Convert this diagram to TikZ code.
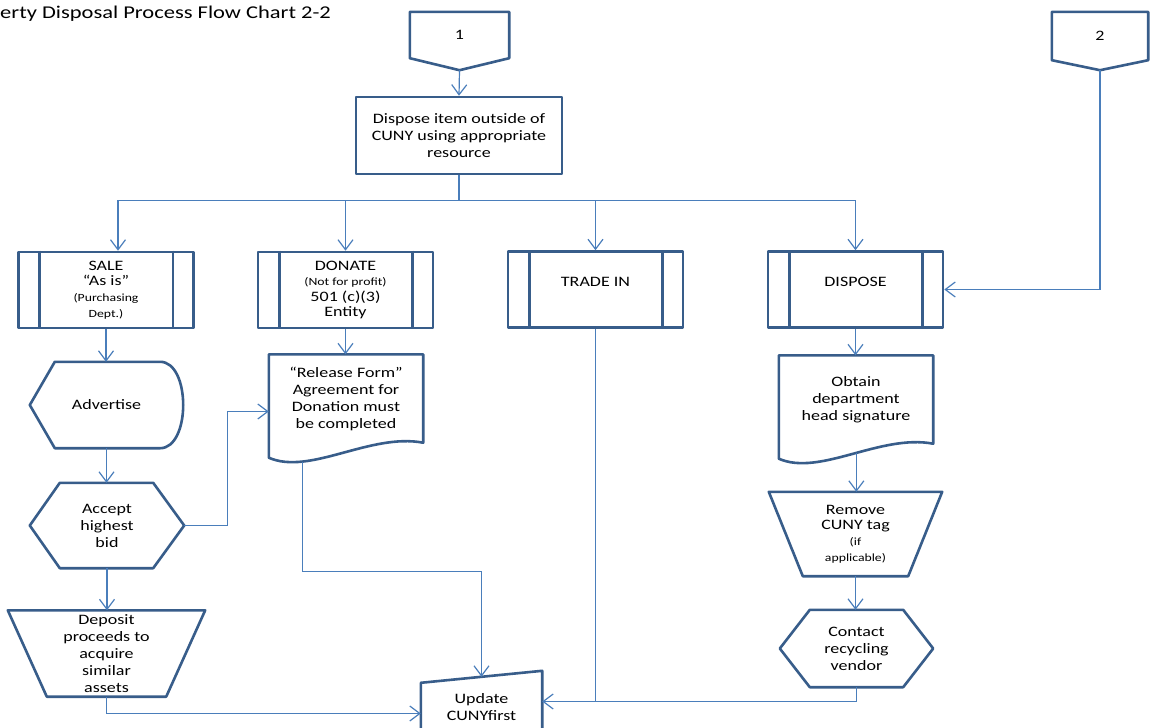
\documentclass[tikz,border=0pt]{standalone}
\usepackage{fontspec}
\setmainfont{Carlito}[FakeStretch=1.25]
\usetikzlibrary{calc,arrows.meta}
\definecolor{bord}{HTML}{385D8A}
\definecolor{conc}{HTML}{4A7EBB}
\newcommand\nfont{\fontsize{14.4}{17}\selectfont}
\newcommand\subfont{\fontsize{14.4}{15.6}\selectfont}
\newcommand\smallf{\fontsize{11}{14}\selectfont}
\tikzset{
  shp/.style={draw=none, inner sep=0pt, align=center, font=\nfont},
  outl/.style={draw=bord, line width=2.6pt, line join=round},
  boxr/.style={shp, draw=bord, line width=2.6pt, line join=round},
  subp/.style={boxr, font=\subfont, minimum width=175pt, minimum height=76pt},
  cn/.style={draw=conc, line width=1.2pt},
  ar/.style={cn, -{Straight Barb[length=10pt,width=15pt]}},
}
\begin{document}
\begin{tikzpicture}[x=1pt,y=-1pt]
\useasboundingbox (0,0) rectangle (1152,728);
\fill[white] (0,0) rectangle (1152,728);

\node[anchor=west, inner sep=0pt, font=\fontsize{18}{21}\selectfont] (title) at (0,14) {erty Disposal Process Flow Chart 2-2};

% off-page connectors
\node[shp, minimum width=99pt, minimum height=46pt] (c1) at (459.5,35) {1};
\coordinate (c1tip) at ($(c1.south)+(0,12)$);
\draw[outl] (c1.north west) -- (c1.north east) -- (c1.south east) -- (c1tip) -- (c1.south west) -- cycle;

\node[shp, minimum width=96pt, minimum height=48pt] (c2) at (1100,36) {2};
\coordinate (c2tip) at ($(c2.south)+(0,10)$);
\draw[outl] (c2.north west) -- (c2.north east) -- (c2.south east) -- (c2tip) -- (c2.south west) -- cycle;

% main process
\node[boxr, minimum width=206pt, minimum height=77pt] (out) at (459,135.5) {Dispose item outside of\\CUNY using appropriate\\resource};

% subprocess boxes
\node[subp] (sale) at (106,290) {SALE\\“As is”\\{\smallf (Purchasing}\\{\smallf Dept.)}};
\node[subp] (don) at (345.5,290) {DONATE\\{\smallf (Not for profit)}\\501 (c)(3)\\Entity};
\node[subp] (trade) at (595.5,289.5) {TRADE IN\\~};
\node[subp] (dsp) at (855.5,289.5) {DISPOSE\\~};
\foreach \n in {sale,don,trade,dsp}{
  \draw[outl] ($(\n.north west)+(22.5,0)$) -- ($(\n.south west)+(22.5,0)$)
              ($(\n.north east)+(-22,0)$) -- ($(\n.south east)+(-22,0)$);
}

% Advertise (display)
\node[shp, minimum width=153pt, minimum height=86pt] (adv) at (106.5,405) {Advertise};
\draw[outl] (adv.west) -- ($(adv.north west)+(25,0)$) -- ($(adv.north east)+(-23,0)$)
  .. controls ($(adv.north east)+(-8,0)$) and ($(adv.east)+(0,-22)$) .. (adv.east)
  .. controls ($(adv.east)+(0,22)$) and ($(adv.south east)+(-8,0)$) .. ($(adv.south east)+(-23,0)$)
  -- ($(adv.south west)+(25,0)$) -- cycle;

% Accept highest bid (hexagon)
\node[shp, minimum width=154pt, minimum height=85pt] (acc) at (107,525.5) {Accept\\highest\\bid};
\draw[outl] (acc.west) -- ($(acc.north west)+(30,0)$) -- ($(acc.north east)+(-31,0)$) -- (acc.east)
  -- ($(acc.south east)+(-31,0)$) -- ($(acc.south west)+(30,0)$) -- cycle;

% Deposit (trapezoid)
\node[shp, minimum width=197pt, minimum height=86pt] (dep) at (106.5,653.5) {Deposit\\proceeds to\\acquire\\similar\\assets};
\draw[outl] (dep.north west) -- (dep.north east) -- ($(dep.south east)+(-39,0)$) -- ($(dep.south west)+(39,0)$) -- cycle;

% Release form (document)
\node[shp, minimum width=154pt, minimum height=88pt] (rel) at (346,398.5) {“Release Form”\\Agreement for\\Donation must\\be completed};
\draw[outl] (rel.north west) -- ($(rel.south west)+(0,15)$)
  .. controls ($(rel.south west)+(41,33)$) and ($(rel.south east)+(-53,-10)$) .. (rel.south east) coordinate[pos=0.25] (relout)
  -- (rel.north east) -- cycle;

% Obtain (document)
\node[shp, minimum width=154pt, minimum height=88pt] (obt) at (856,399.5) {Obtain\\department\\head signature};
\draw[outl] (obt.north west) -- ($(obt.south west)+(0,15)$)
  .. controls ($(obt.south west)+(41,33)$) and ($(obt.south east)+(-53,-10)$) .. (obt.south east) coordinate[pos=0.53] (obtout)
  -- (obt.north east) -- cycle;

% Remove CUNY tag (trapezoid)
\node[shp, font=\subfont, minimum width=173pt, minimum height=84pt] (rem) at (855.5,534) {Remove\\CUNY tag\\{\smallf (if}\\{\smallf applicable)}};
\draw[outl] (rem.north west) -- (rem.north east) -- ($(rem.south east)+(-34,0)$) -- ($(rem.south west)+(34,0)$) -- cycle;

% Contact recycling vendor (hexagon)
\node[shp, minimum width=153pt, minimum height=77pt] (con) at (856.5,648.5) {Contact\\recycling\\vendor};
\draw[outl] (con.west) -- ($(con.north west)+(30,0)$) -- ($(con.north east)+(-30,0)$) -- (con.east)
  -- ($(con.south east)+(-30,0)$) -- ($(con.south west)+(30,0)$) -- cycle;

% Update CUNYfirst (manual input)
\node[shp, minimum width=121pt, minimum height=73pt] (upd) at (481.5,707.5) {Update\\CUNYfirst};
\draw[outl] ($(upd.north west)+(0,12)$) -- coordinate (updtop) (upd.north east) -- (upd.south east) -- (upd.south west) -- cycle;

% connectors
\draw[ar] (c1tip) -- (out.north);
\coordinate (bus) at ($(out.south)+(0,25)$);
\draw[cn] (out.south) -- (bus);
\coordinate (saletop) at ($(sale.north)+(12,0)$);
\draw[cn] (saletop |- bus) -- (dsp.north |- bus);
\draw[ar] (saletop |- bus) -- (saletop);
\draw[ar] (don.north |- bus) -- (don.north);
\draw[ar] (trade.north |- bus) -- (trade.north);
\draw[ar] (dsp.north |- bus) -- (dsp.north);
\draw[ar] (c2tip) |- (dsp.east);

\draw[ar] (sale.south) -- (sale.south |- adv.north);
\draw[ar] (adv.south) -- (adv.south |- acc.north);
\draw[ar] (acc.south) -- (acc.south |- dep.north);
\coordinate (j2) at ($(acc.east)+(43,0)$);
\coordinate (relin) at ($(rel.west)+(0,13)$);
\draw[ar] (acc.east) -- (j2) |- (relin);
\draw[ar] (don.south) -- (don.south |- rel.north);
\coordinate (j1) at ($(relout)+(0,110)$);
\draw[ar] (relout) -- (j1) -| (updtop);

\coordinate (updin) at ($(upd.east)+(0,-6)$);
\coordinate (updin2) at ($(upd.west)+(0,6)$);
\draw[ar] (con.south) |- (updin);
\draw[cn] (trade.south) -- (trade.south |- updin);
\draw[ar] (dep.south) |- (updin2);

\draw[ar] (dsp.south) -- (dsp.south |- obt.north);
\draw[ar] (obtout) -- (obtout |- rem.north);
\draw[ar] (rem.south) -- (rem.south |- con.north);
\end{tikzpicture}
\end{document}
